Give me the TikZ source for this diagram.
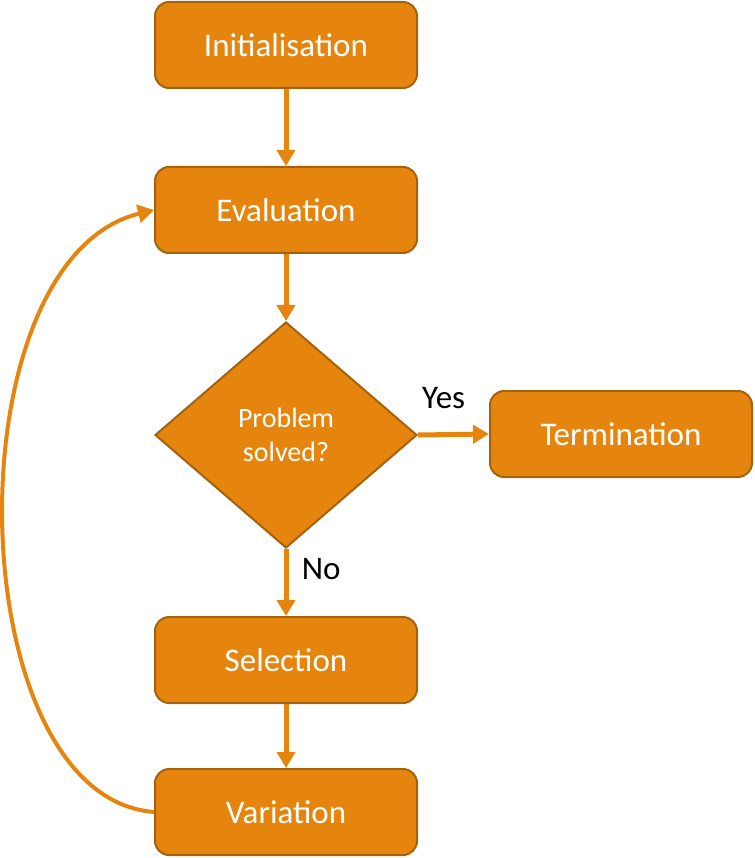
\documentclass[tikz,border=0pt]{standalone}
\usepackage{fontspec}
\setmainfont{Carlito}
\usetikzlibrary{shapes.geometric,arrows.meta}
\definecolor{boxfill}{HTML}{E6850E}
\definecolor{boxline}{HTML}{A5620D}
\tikzset{
    stepbox/.style={draw=boxline, line width=2pt, fill=boxfill, rounded corners=14pt,
        minimum width=262pt, minimum height=86pt, text=white, font=\fontsize{33}{38}\selectfont},
    decision/.style={diamond, draw=boxline, line width=2pt, fill=boxfill, inner sep=0pt,
        minimum width=262pt, minimum height=226pt, text=white, align=center,
        font=\fontsize{28}{34}\selectfont},
    flow/.style={draw=boxfill, line width=5pt, -{Triangle[length=16pt,width=18pt]}},
    tag/.style={font=\fontsize{33}{38}\selectfont}
}
\begin{document}
\begin{tikzpicture}[x=1pt,y=-1pt]
    \useasboundingbox (0,0) rectangle (754,858);
    \node[stepbox] (init) at (286,45) {Initialisation};
    \node[stepbox] (eval) at (286,210) {Evaluation};
    \node[decision] (solved) at (286,435) {Problem\\solved?};
    \node[stepbox] (term) at (621,434) {Termination};
    \node[stepbox] (sel) at (286,660) {Selection};
    \node[stepbox] (var) at (286,812) {Variation};
    \draw[flow] (init) -- (eval);
    \draw[flow] (eval) -- (solved);
    \draw[flow] (solved.east) -- (term.west) node[tag, pos=0.36, above=20pt] {Yes};
    \draw[flow] (solved.south) -- (sel.north) node[tag, pos=0.3, right=10pt] {No};
    \draw[flow] (sel) -- (var);
    % loop back
    \draw[flow, line width=4pt] (var.west) .. controls +(-195,-15) and +(-205,50) .. (eval.west);
\end{tikzpicture}
\end{document}
